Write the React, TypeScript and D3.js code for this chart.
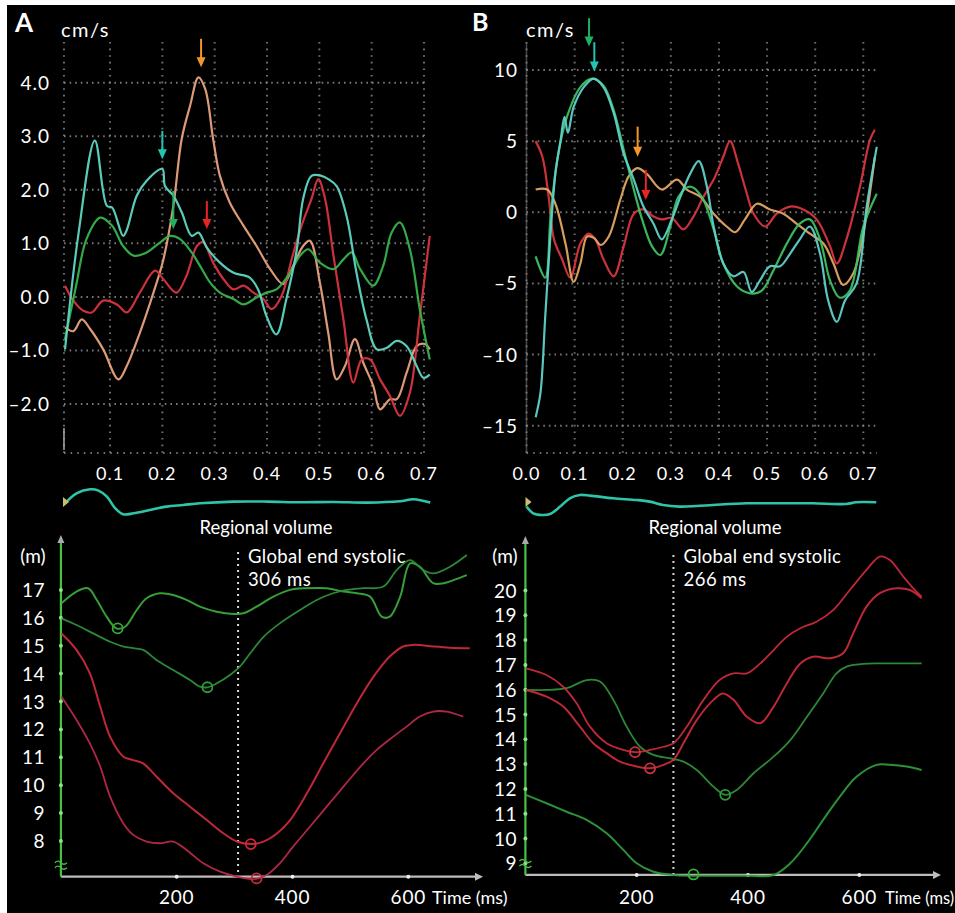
import React from 'react';
import * as d3 from 'd3';

type P = [number, number];

// ---------- Panel A: velocity (cm/s) ----------
const aTimeTicks = [0.1, 0.2, 0.3, 0.4, 0.5, 0.6, 0.7];
const aVelTicks = [4, 3, 2, 1, 0, -1, -2];
const aVelLabels = ['4.0', '3.0', '2.0', '1.0', '0.0', '–1.0', '–2.0'];
const aStart = 0.012;

const aCyan: P[] = [[0.014,-0.98],[0.04,1.2],[0.071,2.92],[0.094,1.7],[0.104,1.67],[0.125,1.14],[0.132,1.25],[0.151,1.89],[0.17,2.17],[0.2,2.39],[0.205,2.07],[0.221,1.89],[0.237,1.58],[0.256,1.14],[0.269,1.2],[0.285,0.92],[0.31,0.64],[0.336,0.45],[0.367,0.36],[0.383,0.14],[0.399,-0.36],[0.418,-0.7],[0.437,-0.04],[0.457,0.89],[0.469,1.83],[0.485,2.26],[0.504,2.26],[0.517,2.2],[0.533,2.07],[0.552,1.51],[0.571,0.45],[0.59,-0.42],[0.61,-0.98],[0.629,-0.95],[0.648,-0.82],[0.667,-0.92],[0.686,-1.29],[0.699,-1.51],[0.711,-1.45]];
const aGreen: P[] = [[0.014,-0.79],[0.035,0.2],[0.055,1.08],[0.081,1.48],[0.104,1.33],[0.125,0.95],[0.145,0.77],[0.17,0.83],[0.196,1.02],[0.215,1.14],[0.234,1.08],[0.256,0.83],[0.272,0.58],[0.291,0.27],[0.31,0.08],[0.336,-0.04],[0.355,-0.14],[0.38,-0.01],[0.399,0.08],[0.418,0.14],[0.444,0.45],[0.463,0.77],[0.479,0.89],[0.501,0.64],[0.527,0.52],[0.546,0.7],[0.562,0.83],[0.578,0.52],[0.603,0.21],[0.622,0.58],[0.638,1.2],[0.654,1.39],[0.673,0.89],[0.692,-0.23],[0.711,-1.17]];
const aOrange: P[] = [[0.014,-0.57],[0.03,-0.64],[0.046,-0.42],[0.062,-0.6],[0.087,-0.98],[0.116,-1.54],[0.132,-1.29],[0.157,-0.67],[0.183,0.08],[0.202,0.7],[0.221,1.7],[0.237,2.95],[0.253,3.57],[0.269,4.1],[0.282,3.88],[0.297,2.95],[0.31,2.26],[0.329,1.76],[0.355,1.33],[0.38,0.95],[0.406,0.52],[0.431,0.24],[0.45,0.58],[0.469,0.95],[0.482,1.05],[0.501,0.27],[0.517,-0.67],[0.533,-1.54],[0.549,-1.29],[0.568,-0.79],[0.584,-1.23],[0.603,-1.66],[0.616,-2.1],[0.635,-1.91],[0.648,-1.91],[0.667,-1.41],[0.686,-0.92],[0.702,-0.88],[0.711,-0.98]];
const aRed: P[] = [[0.014,0.21],[0.03,-0.07],[0.049,-0.26],[0.065,-0.29],[0.087,-0.07],[0.113,-0.14],[0.132,-0.29],[0.157,0.08],[0.186,0.49],[0.202,0.33],[0.227,0.08],[0.246,0.39],[0.266,0.95],[0.278,1.02],[0.297,0.64],[0.317,0.33],[0.336,0.14],[0.355,0.21],[0.374,0.08],[0.393,-0.04],[0.409,-0.23],[0.428,0.02],[0.447,0.7],[0.466,1.33],[0.485,1.83],[0.498,2.2],[0.511,1.83],[0.527,0.77],[0.546,-0.42],[0.565,-1.6],[0.581,-1.17],[0.597,-1.17],[0.616,-1.54],[0.635,-1.85],[0.654,-2.22],[0.673,-1.79],[0.692,-0.36],[0.711,1.14]];
const aArrows = [
  { color: '#f0962a', t: 0.274, tail: 4.82, tip: 4.29 },
  { color: '#22c4b4', t: 0.2, tail: 3.1, tip: 2.57 },
  { color: '#1fb060', t: 0.221, tail: 1.98, tip: 1.27 },
  { color: '#e82424', t: 0.285, tail: 1.79, tip: 1.27 },
];
const aRegional: P[] = [[0.014,0],[0.036,10],[0.062,14],[0.078,12.7],[0.094,6.7],[0.11,-5],[0.125,-11],[0.145,-10],[0.176,-6.7],[0.208,-3.3],[0.24,-1.7],[0.272,0],[0.336,1.7],[0.4,1.7],[0.463,1],[0.527,1.3],[0.591,0.7],[0.654,2],[0.68,4],[0.712,0.7]];

// ---------- Panel B: velocity (cm/s) ----------
const bTimeTicks = [0, 0.1, 0.2, 0.3, 0.4, 0.5, 0.6, 0.7];
const bVelTicks = [10, 5, 0, -5, -10, -15];
const bVelLabels = ['10', '5', '0', '–5', '–10', '–15'];

const bCyan: P[] = [[0.019,-14.4],[0.029,-12.7],[0.039,-7.3],[0.05,-1.5],[0.06,2.7],[0.071,5.1],[0.079,6.7],[0.086,5.6],[0.098,7.4],[0.119,8.8],[0.14,9.4],[0.16,8.8],[0.181,7.0],[0.202,4.1],[0.223,2.3],[0.243,0.4],[0.264,-0.8],[0.281,-1.9],[0.302,-0.5],[0.32,1.1],[0.34,2.7],[0.358,3.6],[0.375,1.8],[0.389,-1.0],[0.409,-3.6],[0.43,-4.5],[0.451,-4.2],[0.468,-5.6],[0.485,-4.8],[0.506,-3.8],[0.527,-3.8],[0.548,-2.9],[0.568,-1.9],[0.589,-1.0],[0.61,-2.9],[0.627,-6.2],[0.645,-7.7],[0.662,-6.2],[0.686,-5.0],[0.707,0.4],[0.728,4.6]];
const bGreen: P[] = [[0.019,-3.1],[0.039,-4.6],[0.05,-0.3],[0.064,3.7],[0.084,6.7],[0.112,8.8],[0.136,9.4],[0.16,8.9],[0.181,7.2],[0.202,4.4],[0.223,1.6],[0.243,-0.8],[0.261,-2.4],[0.278,-3.0],[0.299,-1.0],[0.316,1.1],[0.34,1.8],[0.364,1.1],[0.389,-1.2],[0.409,-3.6],[0.437,-5.2],[0.465,-5.7],[0.489,-5.5],[0.513,-4.1],[0.541,-2.2],[0.568,-0.8],[0.589,-0.5],[0.61,-1.9],[0.631,-4.8],[0.651,-6.0],[0.672,-5.5],[0.7,-1.0],[0.728,1.3]];
const bOrange: P[] = [[0.019,1.6],[0.043,1.6],[0.06,0.6],[0.081,-2.2],[0.098,-4.9],[0.112,-3.6],[0.126,-1.7],[0.14,-1.8],[0.154,-2.3],[0.171,-1.7],[0.195,0.9],[0.212,2.5],[0.23,3.1],[0.25,2.7],[0.281,1.6],[0.313,2.3],[0.333,1.6],[0.361,1.1],[0.389,-0.1],[0.416,-1.0],[0.434,-1.4],[0.454,-0.5],[0.479,0.6],[0.506,0.2],[0.534,-0.1],[0.561,-0.8],[0.589,-1.5],[0.617,-2.2],[0.638,-3.6],[0.658,-5.1],[0.679,-4.3],[0.7,-1.5],[0.724,3.9]];
const bRed: P[] = [[0.019,5.0],[0.033,3.9],[0.046,1.1],[0.057,-1.9],[0.074,-3.3],[0.091,-4.6],[0.112,-2.2],[0.129,-1.5],[0.143,-1.9],[0.16,-3.3],[0.181,-4.5],[0.202,-2.4],[0.223,-0.1],[0.243,0.2],[0.264,-0.3],[0.281,-0.5],[0.302,-0.4],[0.326,-1.2],[0.347,-0.3],[0.368,1.1],[0.389,2.3],[0.409,3.9],[0.423,5.0],[0.44,3.4],[0.458,1.3],[0.472,-0.1],[0.496,-1.0],[0.52,-0.1],[0.548,0.4],[0.575,0.2],[0.603,-0.5],[0.631,-2.4],[0.645,-3.6],[0.665,-1.9],[0.693,1.8],[0.714,5.1],[0.724,5.8]];
const bArrows = [
  { color: '#1fb060', t: 0.13, tail: 13.64, tip: 11.65 },
  { color: '#22c4b4', t: 0.141, tail: 11.95, tip: 9.89 },
  { color: '#f0962a', t: 0.231, tail: 6.02, tip: 3.91 },
  { color: '#e82424', t: 0.248, tail: 2.97, tip: 0.86 },
];
const bRegional: P[] = [[0,-3.3],[0.014,-10],[0.032,-11.7],[0.049,-10.7],[0.07,-3.3],[0.09,5],[0.111,8.3],[0.132,7.7],[0.18,5],[0.229,3.3],[0.256,1.7],[0.284,-1.7],[0.318,-3.3],[0.353,-2.7],[0.388,-1.7],[0.457,0],[0.526,0],[0.595,0],[0.664,-0.7],[0.685,1],[0.727,1]];

// ---------- Regional volume (ml) ----------
const msTicks = [200, 400, 600];
const aVolTicks = [8, 9, 10, 11, 12, 13, 14, 15, 16, 17];
const bVolTicks = [9, 10, 11, 12, 13, 14, 15, 16, 17, 18, 19, 20];
const aEndSystolic = 306;
const bEndSystolic = 266;

const aVolGreen1: P[] = [[1,16.52],[27,16.94],[47,17.06],[62,16.64],[79,16.04],[96,15.62],[111,15.68],[131,16.28],[148,16.7],[171,16.88],[194,16.82],[217,16.64],[240,16.4],[269,16.22],[298,16.14],[315,16.16],[338,16.4],[367,16.76],[396,17.0],[424,17.06],[459,17.06],[488,16.94],[511,16.88],[534,16.76],[554,16.04],[568,16.04],[586,16.76],[603,17.95],[620,17.83],[643,17.24],[661,17.24],[678,17.35],[701,17.53]];
const aVolGreen2: P[] = [[1,15.98],[27,15.74],[56,15.44],[85,15.14],[108,14.97],[125,14.91],[142,14.85],[165,14.49],[194,14.13],[223,13.77],[240,13.53],[253,13.51],[269,13.65],[292,13.95],[309,14.25],[327,14.73],[350,15.32],[378,15.8],[413,16.28],[442,16.64],[470,16.88],[494,17.0],[522,17.06],[557,17.12],[580,17.71],[603,18.07],[626,17.71],[643,17.59],[672,17.83],[701,18.25]];
const aVolRed1: P[] = [[1,15.44],[27,14.85],[50,14.01],[68,12.81],[85,11.74],[108,11.02],[125,10.9],[142,10.78],[165,10.31],[194,9.71],[223,9.23],[252,8.75],[281,8.27],[304,7.98],[328,7.89],[350,7.98],[373,8.27],[396,8.75],[425,9.71],[453,10.78],[482,11.86],[511,12.93],[540,13.89],[568,14.61],[591,14.97],[609,15.03],[643,14.97],[672,14.93],[706,14.91]];
const aVolRed2: P[] = [[1,13.17],[27,12.34],[50,11.5],[68,10.66],[85,9.59],[108,8.63],[125,8.22],[148,7.98],[171,7.92],[194,7.98],[217,7.68],[246,7.2],[275,6.9],[304,6.72],[335,6.63],[355,6.78],[378,7.2],[401,7.8],[430,8.51],[459,9.23],[488,9.95],[517,10.66],[545,11.26],[574,11.74],[597,12.1],[620,12.46],[643,12.64],[666,12.64],[695,12.46]];
const aVolMarkers = [
  { ms: 98, v: 15.62, color: '#3aa83a' },
  { ms: 253, v: 13.51, color: '#2f9a3a' },
  { ms: 328, v: 7.89, color: '#d02838' },
  { ms: 338, v: 6.66, color: '#d02840' },
];

const bVolRed1: P[] = [[1,16.86],[38,16.59],[68,16.12],[92,15.45],[116,14.51],[146,13.84],[176,13.57],[197,13.48],[224,13.57],[248,13.7],[266,13.84],[290,14.51],[320,15.59],[349,16.39],[374,16.66],[398,16.66],[422,17.06],[446,17.6],[470,18.14],[494,18.48],[523,18.74],[553,19.21],[583,20.02],[613,20.83],[637,21.37],[655,21.23],[679,20.56],[697,20.09],[712,19.75]];
const bVolRed2: P[] = [[1,15.99],[38,15.72],[68,15.32],[98,14.51],[122,13.84],[146,13.44],[170,13.1],[200,12.9],[224,12.83],[248,12.97],[266,13.17],[284,13.84],[308,14.78],[338,15.59],[355,15.85],[374,15.59],[398,14.91],[422,14.65],[446,15.32],[470,16.26],[494,17.06],[517,17.33],[547,17.27],[571,17.47],[589,18.27],[613,19.35],[637,19.89],[667,20.09],[691,20.02],[712,19.69]];
const bVolGreen1: P[] = [[1,15.99],[38,15.99],[74,16.06],[110,16.39],[134,16.33],[158,15.59],[182,14.51],[206,13.7],[230,13.37],[260,13.23],[284,13.1],[308,12.76],[338,12.09],[359,11.76],[380,11.96],[410,12.63],[446,13.3],[476,13.97],[506,14.91],[535,15.85],[559,16.66],[577,16.93],[607,17.04],[637,17.06],[712,17.06]];
const bVolGreen2: P[] = [[1,11.76],[38,11.42],[74,11.08],[110,10.75],[146,10.21],[176,9.54],[200,9.0],[230,8.66],[266,8.53],[302,8.5],[338,8.5],[398,8.5],[446,8.53],[476,9.0],[506,9.81],[535,10.75],[565,11.69],[595,12.49],[631,12.97],[655,12.97],[685,12.9],[712,12.76]];
const bVolMarkers = [
  { ms: 197, v: 13.48, color: '#d03040' },
  { ms: 224, v: 12.83, color: '#d03040' },
  { ms: 359, v: 11.76, color: '#2f9a3a' },
  { ms: 302, v: 8.55, color: '#3ab03a' },
];

const FONT = "Lato, 'Open Sans', 'DejaVu Sans', sans-serif";
const GRID = '#8c8c8c';

function lineFor(x: (n: number) => number, y: (n: number) => number) {
  return d3
    .line<P>()
    .x((d) => x(d[0]))
    .y((d) => y(d[1]))
    .curve(d3.curveCatmullRom.alpha(0.5));
}

function Arrow({ x, y1, y2, color }: { x: number; y1: number; y2: number; color: string }) {
  return (
    <g>
      <line x1={x} x2={x} y1={y1} y2={y2 - 7} stroke={color} strokeWidth={2} />
      <polygon points={`${x - 4.5},${y2 - 10} ${x + 4.5},${y2 - 10} ${x},${y2}`} fill={color} />
    </g>
  );
}

export default function App() {
  const xA = d3.scaleLinear().domain([0, 0.7]).range([57.7, 424]);
  const yA = d3.scaleLinear().domain([-2, 4]).range([404, 82.7]);
  const xB = d3.scaleLinear().domain([0, 0.7]).range([526.5, 863.3]);
  const yB = d3.scaleLinear().domain([-15, 10]).range([425.7, 70]);
  const gridTop = 42;
  const gridBottom = 453;

  const yReg = d3.scaleLinear().domain([-15, 15]).range([518.3, 488.3]);
  const regA = lineFor(xA, yReg);
  const regB = lineFor(xB, yReg);

  const xAb = d3.scaleLinear().domain([0, 600]).range([60.9, 408.3]);
  const yAb = d3.scaleLinear().domain([8, 17]).range([841, 589.9]);
  const xBb = d3.scaleLinear().domain([0, 600]).range([525.4, 859.3]);
  const yBb = d3.scaleLinear().domain([9, 20]).range([863.3, 590.5]);
  const aAxisMin = 6.72;
  const bAxisMin = 8.53;

  const velPanel = (
    x: d3.ScaleLinear<number, number>,
    y: d3.ScaleLinear<number, number>,
    timeTicks: number[],
    velTicks: number[],
    velLabels: string[],
    xLeft: number,
    xRight: number,
    series: { d: P[]; c: string }[],
    arrows: { color: string; t: number; tail: number; tip: number }[],
    solidAxis: boolean,
    labelX: number,
    key: string
  ) => {
    const line = lineFor(x, y);
    return (
      <g key={key}>
        {[xLeft, ...timeTicks.filter((t) => t > 0)].map((t, i) => (
          <line key={'v' + i} x1={x(t)} x2={x(t)} y1={gridTop} y2={gridBottom} stroke={GRID} strokeWidth={2} strokeDasharray="1.6,5" opacity={0.8} />
        ))}
        {solidAxis && <line x1={x(xLeft)} x2={x(xLeft)} y1={gridTop} y2={gridBottom} stroke="#777" strokeWidth={1.5} opacity={0.6} />}
        {velTicks.map((v, i) => (
          <line key={'h' + i} x1={x(xLeft)} x2={xRight} y1={y(v)} y2={y(v)} stroke={GRID} strokeWidth={2} strokeDasharray="1.6,4" opacity={0.85} />
        ))}
        <line x1={x(xLeft)} x2={xRight} y1={gridBottom} y2={gridBottom} stroke={GRID} strokeWidth={2} strokeDasharray="1.6,5" opacity={0.8} />
        {velTicks.map((v, i) => (
          <text key={'yl' + i} x={labelX} y={y(v) + 7} textAnchor="end" fill="#fff" fontSize={19} fontFamily={FONT} letterSpacing={1}>
            {velLabels[i]}
          </text>
        ))}
        {timeTicks.map((t, i) => (
          <text key={'xl' + i} x={x(t)} y={479.5} textAnchor="middle" fill="#fff" fontSize={18} fontFamily={FONT} letterSpacing={1}>
            {t.toFixed(1)}
          </text>
        ))}
        {series.map((s, i) => (
          <path key={'s' + i} d={line(s.d) || ''} fill="none" stroke={s.c} strokeWidth={2.2} strokeLinejoin="round" opacity={0.95} />
        ))}
        {arrows.map((a, i) => (
          <Arrow key={'a' + i} x={x(a.t)} y1={y(a.tail)} y2={y(a.tip)} color={a.color} />
        ))}
      </g>
    );
  };

  const volPanel = (
    x: d3.ScaleLinear<number, number>,
    y: d3.ScaleLinear<number, number>,
    ticks: number[],
    axisMin: number,
    axisTop: number,
    xEnd: number,
    labelX: number,
    endSys: number,
    endSysTop: number,
    endSysLabel: string,
    series: { d: P[]; c: string; w: number }[],
    markers: { ms: number; v: number; color: string }[],
    timeX: number,
    timeSize: number,
    key: string
  ) => {
    const line = lineFor(x, y);
    const x0 = x(0);
    const ay = y(axisMin);
    return (
      <g key={key}>
        <line x1={x0} x2={xEnd} y1={ay} y2={ay} stroke="#bdbdbd" strokeWidth={2.2} />
        <polygon points={`${xEnd + 8},${ay} ${xEnd},${ay - 4} ${xEnd},${ay + 4}`} fill="#bdbdbd" />
        {msTicks.map((m, i) => (
          <circle key={'xt' + i} cx={x(m)} cy={ay} r={2} fill="#eee" />
        ))}
        <line x1={x0} x2={x0} y1={ay} y2={axisTop} stroke="#45c145" strokeWidth={2.2} />
        <polygon points={`${x0},${axisTop - 7} ${x0 - 3.5},${axisTop + 1} ${x0 + 3.5},${axisTop + 1}`} fill="#aaa" />
        {ticks.map((t, i) => (
          <circle key={'yt' + i} cx={x0} cy={y(t)} r={2} fill="#8fe08f" />
        ))}
        <path d={`M${x0 - 6},${ay - 14} q3,-3 6,0 t6,0 M${x0 - 6},${ay - 9} q3,-3 6,0 t6,0`} fill="none" stroke="#45c145" strokeWidth={1.3} />
        {ticks.map((t, i) => (
          <text key={'yl' + i} x={labelX} y={y(t) + 7} textAnchor="end" fill="#fff" fontSize={19} fontFamily={FONT} letterSpacing={0.5}>
            {t}
          </text>
        ))}
        <text x={labelX - 12} y={563} textAnchor="middle" fill="#fff" fontSize={19} fontFamily={FONT}>
          (m)
        </text>
        {msTicks.map((m, i) => (
          <text key={'xl' + i} x={x(m)} y={904} textAnchor="middle" fill="#fff" fontSize={19} fontFamily={FONT} letterSpacing={0.8}>
            {m}
          </text>
        ))}
        <text x={timeX} y={904} fill="#fff" fontSize={timeSize} fontFamily={FONT}>
          Time (ms)
        </text>
        <line x1={x(endSys)} x2={x(endSys)} y1={endSysTop} y2={ay} stroke="#d8d8d8" strokeWidth={2} strokeDasharray="2,4" />
        <text x={x(endSys) + 10} y={563} fill="#fff" fontSize={18.5} fontFamily={FONT} letterSpacing={0.3}>
          Global end systolic
        </text>
        <text x={x(endSys) + 10} y={586} fill="#fff" fontSize={18.5} fontFamily={FONT} letterSpacing={0.5}>
          {endSysLabel}
        </text>
        {series.map((s, i) => (
          <path key={'s' + i} d={line(s.d) || ''} fill="none" stroke={s.c} strokeWidth={s.w} opacity={0.95} />
        ))}
        {markers.map((m, i) => (
          <circle key={'m' + i} cx={x(m.ms)} cy={y(m.v)} r={5} fill="none" stroke={m.color} strokeWidth={1.8} />
        ))}
      </g>
    );
  };

  return (
    <svg width={955} height={913} style={{ position: 'absolute', left: 0, top: 0, background: '#fff' }}>
      <rect x={7} y={5} width={948} height={908} fill="#000" />
      <text x={15} y={32} fill="#fff" fontSize={26} fontWeight="bold" fontFamily={FONT}>A</text>
      <text x={472} y={31} fill="#fff" fontSize={25} fontWeight="bold" fontFamily={FONT}>B</text>
      <text x={61} y={37} fill="#fff" fontSize={20} fontFamily={FONT} letterSpacing={1.5}>cm/s</text>
      <text x={526} y={37} fill="#fff" fontSize={20} fontFamily={FONT} letterSpacing={1.5}>cm/s</text>

      {velPanel(xA, yA, aTimeTicks, aVelTicks, aVelLabels, aStart, 427, [
        { d: aOrange, c: '#e9a27c' },
        { d: aRed, c: '#d8343f' },
        { d: aGreen, c: '#36b24c' },
        { d: aCyan, c: '#5fd6c2' },
      ], aArrows, false, 50, 'A')}
      {velPanel(xB, yB, bTimeTicks, bVelTicks, bVelLabels, 0, 877, [
        { d: bRed, c: '#d8343f' },
        { d: bOrange, c: '#e2a564' },
        { d: bGreen, c: '#3cc060' },
        { d: bCyan, c: '#5fd0c8' },
      ], bArrows, true, 518, 'B')}
      <line x1={xA(aStart)} x2={xA(aStart)} y1={428} y2={450} stroke="#aaa" strokeWidth={1.5} />

      <path d={regA(aRegional) || ''} fill="none" stroke="#2fc4a8" strokeWidth={2.6} />
      <path d={regB(bRegional) || ''} fill="none" stroke="#2fc4a8" strokeWidth={2.6} />
      <polygon points={`${xA(aStart) - 1},${497} ${xA(aStart) + 5},${502} ${xA(aStart) - 1},${507}`} fill="#c8c070" />
      <polygon points={`${xB(0) - 1},${497} ${xB(0) + 5},${502} ${xB(0) - 1},${507}`} fill="#c8c070" />
      <text x={266} y={534} textAnchor="middle" fill="#fff" fontSize={18.5} fontFamily={FONT}>Regional volume</text>
      <text x={715} y={534} textAnchor="middle" fill="#fff" fontSize={18.5} fontFamily={FONT}>Regional volume</text>

      {volPanel(xAb, yAb, aVolTicks, aAxisMin, 542, 475, 45, aEndSystolic, 552, '306 ms', [
        { d: aVolGreen1, c: '#3aa83a', w: 2 },
        { d: aVolGreen2, c: '#2f8f38', w: 1.8 },
        { d: aVolRed1, c: '#c82a3a', w: 2 },
        { d: aVolRed2, c: '#b82a4a', w: 1.8 },
      ], aVolMarkers, 432, 18, 'Ab')}
      {volPanel(xBb, yBb, bVolTicks, bAxisMin, 543, 933, 517, bEndSystolic, 555, '266 ms', [
        { d: bVolGreen1, c: '#2f8f38', w: 1.8 },
        { d: bVolGreen2, c: '#2f9a3a', w: 2 },
        { d: bVolRed1, c: '#c82a3a', w: 1.8 },
        { d: bVolRed2, c: '#c82a3a', w: 2 },
      ], bVolMarkers, 885, 16.5, 'Bb')}
    </svg>
  );
}
